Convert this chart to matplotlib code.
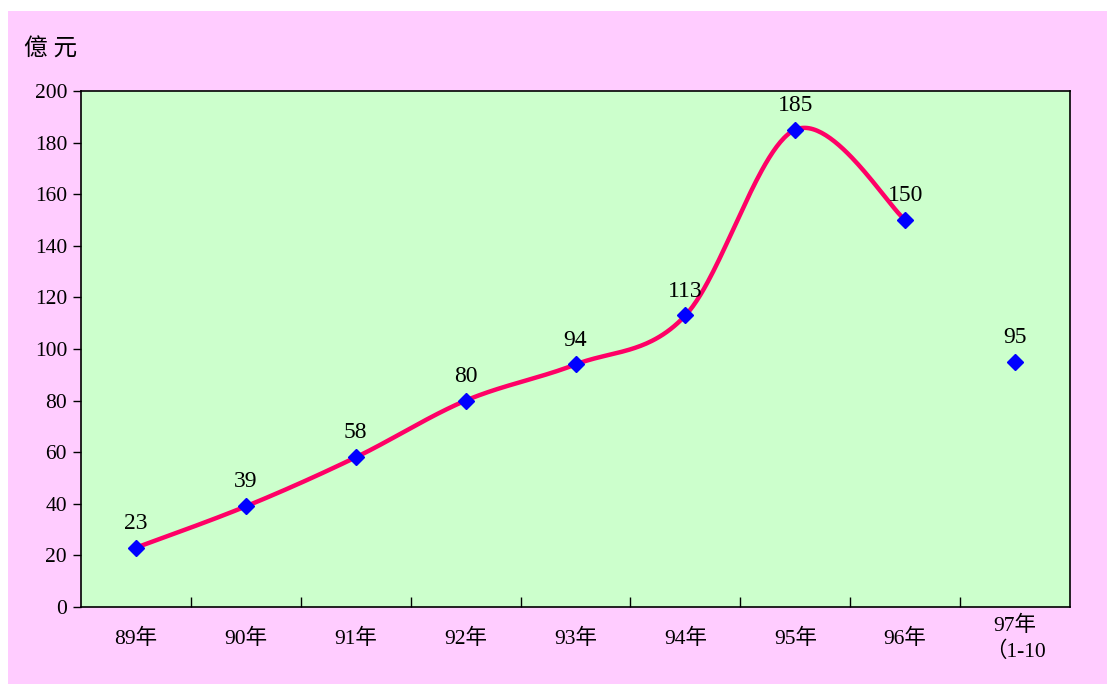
import numpy as np
import matplotlib
matplotlib.use("Agg")
import matplotlib.pyplot as plt
from matplotlib.patches import Rectangle

plt.rcParams['font.family'] = ['Liberation Serif', 'Noto Sans CJK TC']

categories = ["89年", "90年", "91年", "92年", "93年", "94年", "95年", "96年", "97年\n（1-10"]
values = [23, 39, 58, 80, 94, 113, 185, 150, 95]
n_smooth = 8  # the curve joins 89年 through 96年; 97年 stands alone
y_ticks = [0, 20, 40, 60, 80, 100, 120, 140, 160, 180, 200]
unit_label = "億 元"


def smooth_curve(xs, ys, steps=60):
    """Bezier smoothing through the points (Catmull-Rom style control points)."""
    pts = np.column_stack([xs, ys]).astype(float)
    out = [pts[0]]
    n = len(pts)
    for i in range(n - 1):
        p0 = pts[i - 1] if i > 0 else pts[i]
        p1 = pts[i]
        p2 = pts[i + 1]
        p3 = pts[i + 2] if i + 2 < n else pts[i + 1]
        c1 = p1 + (p2 - p0) / 6.0
        c2 = p2 - (p3 - p1) / 6.0
        t = np.linspace(0, 1, steps)[1:, None]
        seg = ((1 - t) ** 3) * p1 + 3 * t * (1 - t) ** 2 * c1 + 3 * t ** 2 * (1 - t) * c2 + t ** 3 * p2
        out.extend(seg)
    out = np.array(out)
    return out[:, 0], out[:, 1]


fig = plt.figure(figsize=(11.07, 6.84), dpi=100)
fig.patch.set_facecolor("white")
fig.patches.append(Rectangle((8 / 1107, 0), 1 - 8 / 1107, 1 - 11 / 684,
                             transform=fig.transFigure, facecolor="#FFCCFF",
                             edgecolor="none", zorder=-10))

ax = fig.add_axes([81 / 1107, 1 - 607 / 684, (1070 - 81) / 1107, (607 - 91) / 684])
ax.set_facecolor("#CCFFCC")

x = np.arange(len(categories))
sx, sy = smooth_curve(x[:n_smooth], values[:n_smooth])
ax.plot(sx, sy, color="#FF0066", lw=3.2, zorder=2, solid_capstyle="round")
ax.plot(x, values, linestyle="none", marker="D", markersize=8.5,
        color="#0000FF", zorder=3)

for xi, v in zip(x, values):
    ax.annotate(str(v), (xi, v), xytext=(0, 10), textcoords="offset points",
                ha="center", va="bottom", fontsize=17, color="black")

ax.set_xlim(-0.5, len(categories) - 0.5)
ax.set_ylim(0, 200)
ax.set_yticks(y_ticks)
ax.set_yticklabels([str(t) for t in y_ticks], fontsize=15.5)
ax.set_xticks(x)
ax.set_xticklabels(categories, fontsize=15.5, linespacing=1.35, va="center")
ax.tick_params(axis="x", length=0, pad=23)
ax.set_xticks(np.arange(0.5, len(categories) - 0.5, 1), minor=True)
ax.tick_params(axis="x", which="minor", direction="in", length=7, width=1)
ax.tick_params(axis="y", direction="out", length=6, width=1, pad=4)

for s in ax.spines.values():
    s.set_linewidth(1.2)
    s.set_color("black")

fig.text(24 / 1107, 1 - 50 / 684, unit_label, fontsize=17, ha="left", va="center")

fig.savefig("out.png", dpi=100)
